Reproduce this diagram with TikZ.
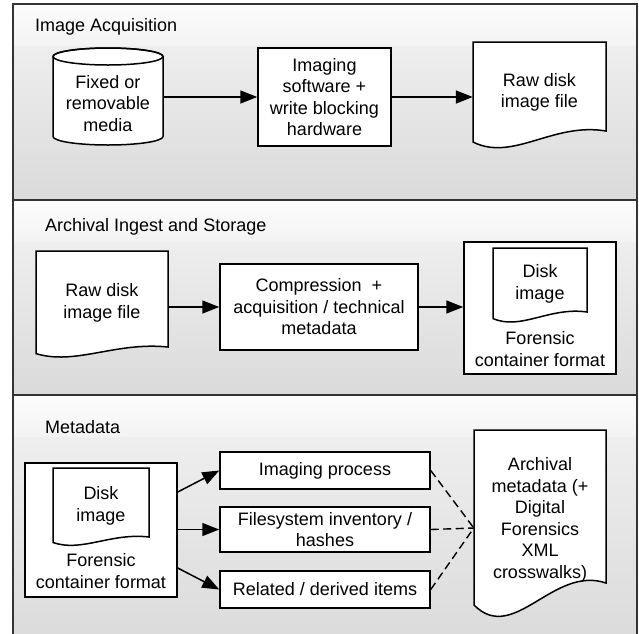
\documentclass[tikz,border=0pt]{standalone}
\usepackage{fontspec}
\setmainfont{Liberation Sans}
\usetikzlibrary{arrows.meta,calc}
\definecolor{bgA}{HTML}{FCFCFC}
\definecolor{bgB}{HTML}{F3F3F3}
\definecolor{bgC}{HTML}{EEEEEE}
\definecolor{bgD}{HTML}{DADADA}
\definecolor{panelcol}{HTML}{333333}
% document outline: x1, x2, top, right-bottom y, wave amplitude factor
\newcommand\docsh[5]{%
  \draw[shp] (#1,#3) -- (#2,#3) -- (#2,#4)
    .. controls ({#1+0.6*(#2-#1)},{#4-9*#5}) and ({#1+0.3*(#2-#1)},{#4+31*#5})
    .. (#1,{#4+11*#5}) -- cycle;}
\newcommand\panelbg[2]{%
  \shade[top color=bgA, bottom color=bgB] (13,#1) rectangle (637,{#1+42});
  \shade[top color=bgC, bottom color=bgD] (13,{#1+42}) rectangle (637,#2);
  \draw[panelline] (13,#1) rectangle (637,#2);}
\begin{document}
\begin{tikzpicture}[x=1pt,y=-1pt,
  txt/.style={font=\fontsize{18}{21.5}\selectfont, align=center, inner sep=0pt},
  ttl/.style={font=\fontsize{18}{21.5}\selectfont, anchor=west, inner sep=0pt},
  box/.style={txt, draw=black, line width=1.5pt, fill=white},
  shp/.style={draw=black, line width=1.5pt, fill=white},
  panelline/.style={draw=panelcol, line width=1.6pt},
  arr/.style={line width=1.5pt, -{Triangle[length=17pt,width=13pt]}},
  dsh/.style={line width=1.4pt, dash pattern=on 8pt off 4.5pt}]
\clip (0,0) rectangle (639,633);
\fill[white] (0,0) rectangle (639,633);

% ---------- panels ----------
\panelbg{4}{200}
\panelbg{200}{395}
\panelbg{395}{650}

% ---------- Panel 1: Image Acquisition ----------
\node[ttl] (t1) at (35,27) {Image Acquisition};
\draw[shp] (53,56.5) -- (53,136.5)
  arc[start angle=180, end angle=360, x radius=55pt, y radius=8.5pt]
  -- (163,56.5)
  arc[start angle=0, end angle=180, x radius=55pt, y radius=8.5pt] -- cycle;
\draw[line width=1.5pt] (108,56.5) ellipse [x radius=55pt, y radius=8.5pt];
\node[txt, minimum width=110pt] (media) at (108,103.5) {Fixed or\\removable\\media};
\node[box, minimum width=133pt, minimum height=98pt] (imgsw) at (324.5,97)
  {Imaging\\software +\\write blocking\\hardware};
\docsh{473}{606}{42}{131}{1}
\node[txt, minimum width=133pt] (raw1) at (539.5,92.5) {Raw disk\\image file};
\draw[arr] (media.east |- imgsw.west) -- (imgsw.west);
\draw[arr] (imgsw.east) -- (imgsw.east -| raw1.west);

% ---------- Panel 2: Archival Ingest and Storage ----------
\node[ttl] (t2) at (45,227) {Archival Ingest and Storage};
\docsh{36}{168}{251}{347}{0.6}
\node[txt, minimum width=132pt] (raw2) at (102,303) {Raw disk\\image file};
\node[box, minimum width=198pt, minimum height=86pt] (comp) at (319,307)
  {Compression\ \ +\\acquisition / technical\\metadata};
\node[shp, minimum width=152pt, minimum height=132pt, inner sep=0pt] (cont2) at (540,308) {};
\docsh{493}{587}{248}{312}{0.6}
\node[txt] (disk2) at (540,284) {Disk\\image};
\node[txt] (for2) at (540,349) {Forensic\\container format};
\draw[arr] (raw2.east |- comp.west) -- (comp.west);
\draw[arr] (comp.east) -- (comp.east -| cont2.west);

% ---------- Panel 3: Metadata ----------
\node[ttl] (t3) at (45,427) {Metadata};
\node[shp, minimum width=152pt, minimum height=134pt, inner sep=0pt] (cont3) at (101,530) {};
\docsh{53}{149}{468}{537}{0.5}
\node[txt] (disk3) at (101,506) {Disk\\image};
\node[txt] (for3) at (101,571) {Forensic\\container format};
\node[box, minimum width=210pt, minimum height=37pt] (proc) at (325,470.5) {Imaging process};
\node[box, minimum width=210pt, minimum height=45pt] (fs) at (325,529.5) {Filesystem inventory /\\hashes};
\node[box, minimum width=210pt, minimum height=37pt] (rel) at (325,589.5) {Related / derived items};
\docsh{474}{606}{430}{583}{2}
\node[txt, minimum width=132pt] (arch) at (540,520)
  {Archival\\metadata (+\\Digital\\Forensics\\XML\\crosswalks)};
\coordinate (archin) at ([yshift=-8pt]arch.west);
\draw[arr] ([yshift=38pt]cont3.east) -- (proc.west);
\draw[arr] (cont3.east |- fs.west) -- (fs.west);
\draw[arr] ([yshift=-38pt]cont3.east) -- (rel.west);
\draw[dsh] (proc.east) -- (archin);
\draw[dsh] (fs.east) -- (archin);
\draw[dsh] (rel.east) -- (archin);
\end{tikzpicture}
\end{document}
